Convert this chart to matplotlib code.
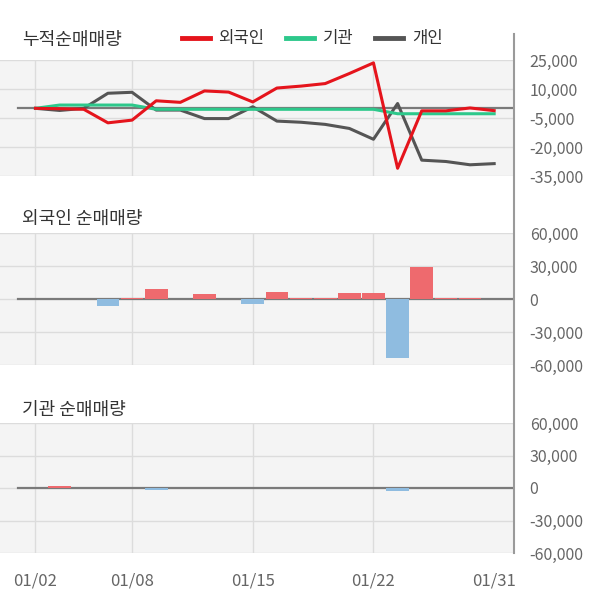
import matplotlib
matplotlib.use('Agg')
import matplotlib.pyplot as plt
from matplotlib.lines import Line2D
import numpy as np

plt.rcParams['font.family'] = ['Noto Sans CJK KR', 'DejaVu Sans']

# trading days shown on the chart
dates = ['01/02', '01/03', '01/04', '01/07', '01/08', '01/09', '01/10', '01/11',
         '01/14', '01/15', '01/16', '01/17', '01/18', '01/21', '01/22', '01/23',
         '01/24', '01/25', '01/28', '01/31']
tick_dates = ['01/02', '01/08', '01/15', '01/22', '01/31']

# cumulative net buying (shares)
foreign_cum = [0, -200, -500, -7500, -6100, 3900, 3100, 9000, 8400, 3300,
               10500, 11500, 12800, 18000, 23500, -31000, -1300, -1300, 200, -1200]
inst_cum = [0, 1700, 1700, 1700, 1700, -500, -500, -500, -500, -500,
            -500, -500, -500, -500, -500, -2800, -2800, -2800, -2800, -2800]
indiv_cum = [0, -1100, 0, 7800, 8300, -900, -900, -5300, -5300, 800,
             -6600, -7200, -8300, -10400, -16000, 2500, -26800, -27500, -29200, -28600]

# daily net buying
foreign_net = [0, 0, 0, -6700, 1200, 9400, 0, 4800, 0, -4800,
               6700, 1200, 1200, 5800, 5800, -54000, 29400, 1200, 1200, 0]
inst_net = [0, 1700, 0, 0, 0, -2300, 0, 0, 0, 0,
            0, 0, 0, 0, 0, -2600, 0, 0, 0, 0]

RED = '#e5141c'
GREEN = '#2dc88b'
GRAY = '#555555'
BAR_UP = '#ee6a6e'
BAR_DN = '#8fbce0'
BG = '#f4f4f4'
GRID = '#dcdcdc'
FIG_W, FIG_H = 600, 604
RIGHT = 513

x = np.arange(len(dates))
tick_pos = [dates.index(d) for d in tick_dates]

fig = plt.figure(figsize=(FIG_W / 100, FIG_H / 100), dpi=100)


def panel(top_px, bot_px, ylim, yticks):
    ax = fig.add_axes([0, 1 - bot_px / FIG_H, RIGHT / FIG_W, (bot_px - top_px) / FIG_H])
    ax.set_facecolor(BG)
    ax.set_xlim(-1.47, 19.78)
    ax.set_ylim(*ylim)
    ax.set_yticks(yticks)
    ax.set_yticklabels([f'{v:,}' for v in yticks])
    ax.yaxis.tick_right()
    ax.tick_params(axis='y', length=0, pad=12, labelsize=11.5, labelcolor='#666666')
    ax.set_xticks(tick_pos)
    ax.set_xticklabels([])
    ax.tick_params(axis='x', length=0)
    for s in ax.spines.values():
        s.set_visible(False)
    ax.set_axisbelow(True)
    ax.grid(axis='y', color=GRID, lw=1)
    for p in tick_pos[:-1]:
        ax.axvline(p, color=GRID, lw=1, zorder=0)
    ax.axhline(0, xmin=18 / RIGHT, color='#7a7a7a', lw=1.6, zorder=1)
    return ax


# cumulative panel
ax1 = panel(60, 176, (-35000, 25000), [25000, 10000, -5000, -20000, -35000])
ax1.plot(x, indiv_cum, color=GRAY, lw=2.2, label='개인', zorder=3)
ax1.plot(x, inst_cum, color=GREEN, lw=2.2, label='기관', zorder=4)
ax1.plot(x, foreign_cum, color=RED, lw=2.2, label='외국인', zorder=5)

handles = [Line2D([], [], color=RED, lw=3.5), Line2D([], [], color=GREEN, lw=3.5),
           Line2D([], [], color=GRAY, lw=3.5)]
fig.legend(handles, ['외국인', '기관', '개인'], loc='center',
           bbox_to_anchor=(312 / FIG_W, 1 - 39 / FIG_H), ncol=3, frameon=False,
           fontsize=12, handlelength=1.7, handletextpad=0.5, columnspacing=1.3,
           labelcolor='#333333')

# foreign daily
ax2 = panel(233, 365, (-60000, 60000), [60000, 30000, 0, -30000, -60000])
ax2.bar(x, foreign_net, width=0.94,
        color=[BAR_UP if v >= 0 else BAR_DN for v in foreign_net], zorder=2)

# institution daily
ax3 = panel(423, 553, (-60000, 60000), [60000, 30000, 0, -30000, -60000])
ax3.bar(x, inst_net, width=0.94,
        color=[BAR_UP if v >= 0 else BAR_DN for v in inst_net], zorder=2)
ax3.set_xticklabels(tick_dates)
ax3.tick_params(axis='x', pad=14, labelsize=12, labelcolor='#666666')

for y_px, title in [(40, '누적순매매량'), (219, '외국인 순매매량'), (410, '기관 순매매량')]:
    fig.text(22 / FIG_W, 1 - y_px / FIG_H, title, fontsize=13, color='#333333', va='center')

fig.add_artist(Line2D([(RIGHT + 1) / FIG_W] * 2, [1 - 34 / FIG_H, 1 - 553 / FIG_H],
                      color='#9a9a9a', lw=1.5))

fig.savefig('out.png', dpi=100, facecolor='white')
